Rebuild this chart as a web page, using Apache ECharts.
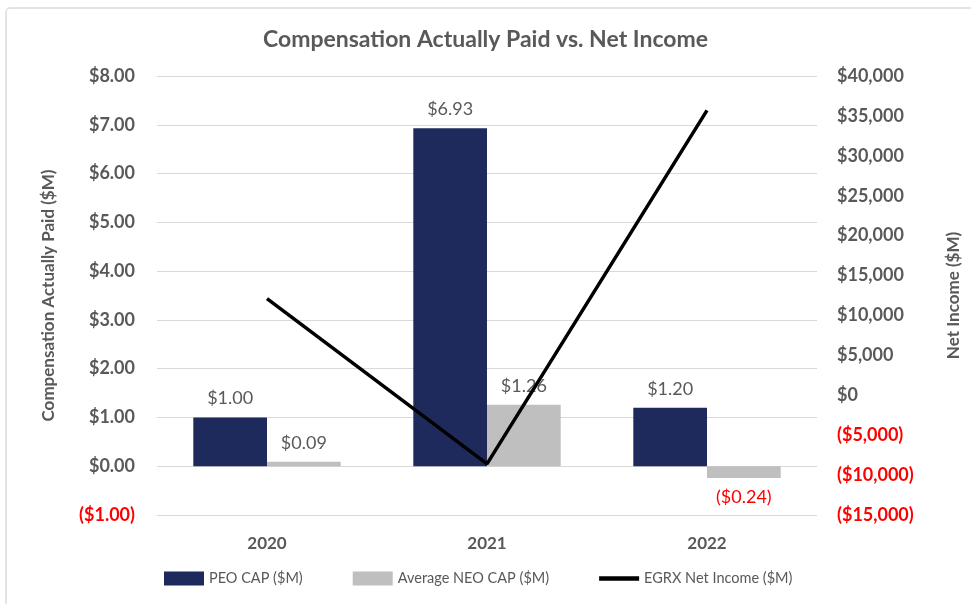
<!DOCTYPE html>
<html>
<head>
<meta charset="utf-8">
<script src="https://cdn.jsdelivr.net/npm/echarts@6/dist/echarts.min.js"></script>
<style>
  html, body { margin: 0; padding: 0; background: #fff; }
  #chart { width: 971px; height: 604px; }
</style>
</head>
<body>
<div id="chart"></div>
<script>
const years = ["2020", "2021", "2022"];
const peoCap = [1.00, 6.93, 1.20];
const neoCap = [0.09, 1.26, -0.24];
const netIncome = [12100, -8600, 35700];

const GREY = "#595959";
const RED = "#ff0000";
const FONT = "Lato";

const money2 = (v) => (v < 0 ? "($" + Math.abs(v).toFixed(2) + ")" : "$" + v.toFixed(2));
const moneyK = (v) => {
    const s = "$" + Math.abs(v).toLocaleString("en-US");
    return v < 0 ? "(" + s + ")" : s;
};

// negative bars get their label under the bar, in red
const withLabels = (arr) =>
    arr.map((v) => (v < 0 ? { value: v, label: { position: "bottom", color: RED } } : v));

const chart = echarts.init(document.getElementById("chart"));

chart.setOption({
    textStyle: { fontFamily: FONT },
    graphic: [
        {
            type: "rect",
            shape: { x: 6, y: 8, width: 1000, height: 640, r: 4 },
            style: { fill: "none", stroke: "#dcdcdc", lineWidth: 1.5 },
            silent: true,
        },
    ],
    title: {
        text: "Compensation Actually Paid vs. Net Income",
        left: "center",
        top: 23,
        textStyle: { color: GREY, fontSize: 23, fontWeight: "bold", fontFamily: FONT },
    },
    legend: {
        bottom: 13,
        left: 159,
        itemWidth: 40,
        itemHeight: 14,
        itemGap: 50,
        textStyle: { color: GREY, fontSize: 14.5, fontFamily: FONT },
        data: [
            { name: "PEO CAP ($M)", icon: "rect" },
            { name: "Average NEO CAP ($M)", icon: "rect" },
            { name: "EGRX Net Income ($M)", icon: "path://M0,0H36V4H0Z" },
        ],
    },
    grid: { left: 157, right: 154, top: 76, bottom: 89 },
    xAxis: {
        type: "category",
        data: years,
        axisLine: { onZero: false, show: false },
        axisTick: { show: false },
        axisLabel: { color: GREY, fontSize: 17, fontWeight: "bold", margin: 20 },
    },
    yAxis: [
        {
            type: "value",
            min: -1,
            max: 8,
            interval: 1,
            name: "Compensation Actually Paid ($M)",
            nameLocation: "middle",
            nameGap: 100,
            nameRotate: 90,
            nameTextStyle: { color: GREY, fontSize: 17, fontWeight: "bold" },
            axisLine: { show: false },
            axisTick: { show: false },
            splitLine: { lineStyle: { color: "#d9d9d9", width: 1 } },
            axisLabel: {
                margin: 22,
                fontSize: 18,
                fontWeight: "bold",
                formatter: money2,
                color: (v) => (Number(v) < 0 ? RED : GREY),
            },
        },
        {
            type: "value",
            min: -15000,
            max: 40000,
            interval: 5000,
            name: "Net Income ($M)",
            nameLocation: "middle",
            nameGap: 128,
            nameRotate: 90,
            nameTextStyle: { color: GREY, fontSize: 17, fontWeight: "bold" },
            axisLine: { show: false },
            axisTick: { show: false },
            splitLine: { show: false },
            axisLabel: {
                margin: 20,
                fontSize: 18,
                fontWeight: "bold",
                formatter: moneyK,
                color: (v) => (Number(v) < 0 ? RED : GREY),
            },
        },
    ],
    series: [
        {
            name: "PEO CAP ($M)",
            type: "bar",
            yAxisIndex: 0,
            data: withLabels(peoCap),
            barGap: "0%",
            barCategoryGap: "33%",
            itemStyle: { color: "#1f2a5c" },
            label: {
                show: true,
                position: "top",
                distance: 10,
                color: GREY,
                fontSize: 18,
                formatter: (p) => money2(p.value),
            },
        },
        {
            name: "Average NEO CAP ($M)",
            type: "bar",
            yAxisIndex: 0,
            data: withLabels(neoCap),
            itemStyle: { color: "#bfbfbf" },
            label: {
                show: true,
                position: "top",
                distance: 10,
                color: GREY,
                fontSize: 18,
                formatter: (p) => money2(p.value),
            },
        },
        {
            name: "EGRX Net Income ($M)",
            type: "line",
            yAxisIndex: 1,
            data: netIncome,
            symbol: "none",
            lineStyle: { color: "#000", width: 3.5 },
            itemStyle: { color: "#000" },
            z: 5,
        },
    ],
});
</script>
</body>
</html>
